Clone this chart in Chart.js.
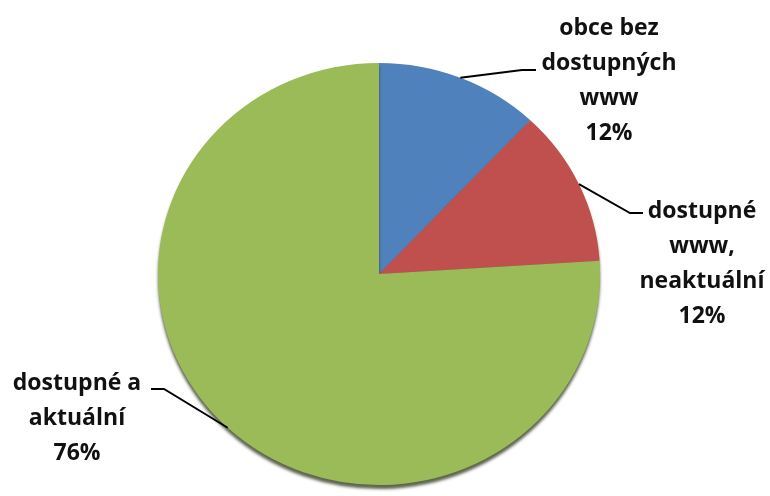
<!DOCTYPE html>
<html>
<head>
<meta charset="utf-8">
<script src="https://cdn.jsdelivr.net/npm/chart.js@4.4.1/dist/chart.umd.min.js"></script>
<style>
  html, body { margin: 0; padding: 0; background: #fff; }
  #wrap { width: 770px; height: 496px; }
</style>
</head>
<body>
<div id="wrap"><canvas id="pie-chart" width="770" height="496"></canvas></div>
<script>
// data
const categories = ['obce bez dostupných www', 'dostupné www, neaktuální', 'dostupné a aktuální'];
const categoryLines = [['obce bez', 'dostupných', 'www'], ['dostupné', 'www,', 'neaktuální'], ['dostupné a', 'aktuální']];
const shares = [12, 12, 76];
const sliceColors = ['#4F81BD', '#C0504D', '#9BBB59'];

// where the labels sit (centre of first line) and the leader elbows
const labelSpots = [
    { x: 609, y: 28, elbow: [522, 70], end: [536, 70] },
    { x: 702, y: 211, elbow: [630, 213], end: [643, 213] },
    { x: 77, y: 383, elbow: [164, 389], end: [151, 389] },
];
const squash = 0.955; // the pie is a bit flatter than round

const pieCanvas = document.querySelector('#pie-chart');

const ellipsePlugin = {
    id: 'ellipse',
    beforeDatasetsDraw(chart) {
        const ctx = chart.ctx;
        const arc = chart.getDatasetMeta(0).data[0];
        ctx.save();
        ctx.translate(arc.x, arc.y);
        ctx.scale(1, squash);
        ctx.translate(-arc.x, -arc.y);
        ctx.shadowColor = 'rgba(40,50,20,0.75)';
        ctx.shadowBlur = 3;
        ctx.shadowOffsetY = 4;
    },
    afterDatasetsDraw(chart) {
        chart.ctx.restore();
    }
};

const labelPlugin = {
    id: 'pieLabels',
    afterDraw(chart) {
        const ctx = chart.ctx;
        const meta = chart.getDatasetMeta(0);
        const total = shares.reduce((a, b) => a + b, 0);
        ctx.save();
        meta.data.forEach((arc, i) => {
            const spot = labelSpots[i];
            const mid = (arc.startAngle + arc.endAngle) / 2;
            const sx = arc.x + Math.cos(mid) * arc.outerRadius;
            const sy = arc.y + Math.sin(mid) * arc.outerRadius * squash;
            ctx.strokeStyle = '#000';
            ctx.lineWidth = 1.8;
            ctx.beginPath();
            ctx.moveTo(sx, sy);
            ctx.lineTo(spot.elbow[0], spot.elbow[1]);
            ctx.lineTo(spot.end[0], spot.end[1]);
            ctx.stroke();

            const lines = categoryLines[i].concat([Math.round(shares[i] / total * 100) + '%']);
            ctx.fillStyle = '#111';
            ctx.font = 'bold 23px "Open Sans"';
            ctx.textAlign = 'center';
            ctx.textBaseline = 'middle';
            lines.forEach((t, j) => ctx.fillText(t, spot.x, spot.y + j * 35));
        });
        ctx.restore();
    }
};

new Chart(pieCanvas.getContext('2d'), {
    type: 'pie',
    data: {
        labels: categories,
        datasets: [{
            data: shares,
            backgroundColor: sliceColors,
            borderWidth: 0,
        }]
    },
    options: {
        responsive: false,
        animation: false,
        layout: { padding: { left: 158, right: 170, top: 53, bottom: 1 } },
        plugins: {
            legend: { display: false },
            tooltip: { enabled: false },
        }
    },
    plugins: [ellipsePlugin, labelPlugin]
});
</script>
</body>
</html>
